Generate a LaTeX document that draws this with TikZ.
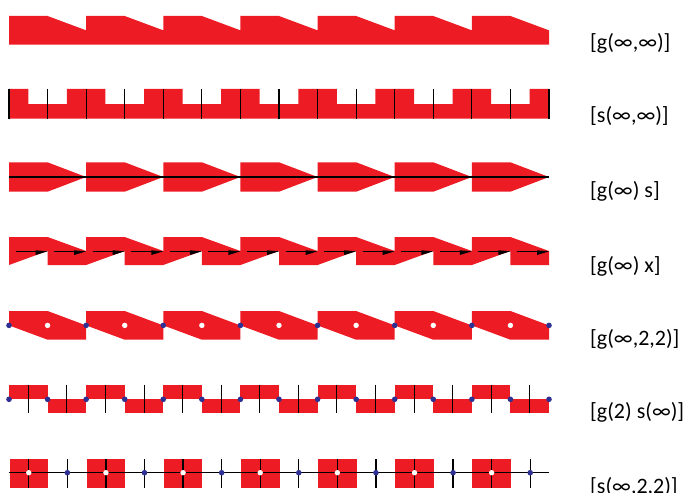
\documentclass[tikz,border=0pt]{standalone}
\usepackage{fontspec}
\setmainfont{Carlito}
\definecolor{fred}{RGB}{237,28,36}
\definecolor{fblue}{RGB}{46,49,146}
\begin{document}
\begin{tikzpicture}[x=1pt,y=-1pt,
  mline/.style={black,line width=1.2pt},
  lab/.style={anchor=west,inner sep=0pt,font=\fontsize{22}{26}\selectfont}]
\useasboundingbox (0,0) rectangle (692,492);
\pgfmathsetmacro\X{9}
\pgfmathsetmacro\P{540/7}
\pgfmathsetmacro\Hh{270/7}
% Row 1
\fill[fred] (\X,44.7) -- (\X,16)
  \foreach \k in {0,...,5}{ -- ({\X+\k*\P+\Hh},16) -- ({\X+(\k+1)*\P},30.35) -- ({\X+(\k+1)*\P},16) }
  -- ({\X+6*\P+\Hh},16) -- (549,30.35) -- (549,44.7) -- cycle;
% Row 2
\fill[fred] (\X,118.7) -- (\X,89)
  \foreach \k in {0,...,6}{ -- ({\X+\k*\P+0.5*\Hh},89) -- ({\X+\k*\P+0.5*\Hh},104) -- ({\X+\k*\P+1.5*\Hh},104) -- ({\X+\k*\P+1.5*\Hh},89) }
  -- (549,89) -- (549,118.7) -- cycle;
\foreach \k in {0,...,14} \draw[mline] ({\X+\k*\Hh},89) -- ({\X+\k*\Hh},118.7);
% Row 3
\foreach \k in {0,...,6} \fill[fred] ({\X+\k*\P},162.3) -- ++(\Hh,0) -- ({\X+(\k+1)*\P},177) -- ({\X+\k*\P+\Hh},191.7) -- ({\X+\k*\P},191.7) -- cycle;
\draw[mline,line width=1.6pt] (\X,177) -- (549,177);
% Row 4
\fill[fred] (\X,265) -- (\X,237)
  \foreach \k in {0,...,5}{ -- ({\X+\k*\P+\Hh},237) -- ({\X+(\k+1)*\P},251) -- ({\X+(\k+1)*\P},237) }
  -- ({\X+6*\P+\Hh},237) -- (549,251) -- (549,265)
  \foreach \k in {6,5,...,0}{ -- ({\X+\k*\P+\Hh},265) -- ({\X+\k*\P+\Hh},251) -- ({\X+\k*\P},265) } -- cycle;
\foreach \j in {1,...,14}{
  \draw[black,line width=1pt] ({\X+\j*\Hh-32},251) -- ({\X+\j*\Hh-6},251);
  \fill[black] ({\X+\j*\Hh},251.3) -- ({\X+\j*\Hh-12},250.3) -- ({\X+\j*\Hh-12},255) -- cycle;
}
% Row 5
\foreach \k in {0,...,6} \fill[fred] ({\X+\k*\P},311) -- ++(\Hh,0) -- ({\X+(\k+1)*\P},325.4) -- ({\X+(\k+1)*\P},339.7) -- ({\X+\k*\P+\Hh},339.7) -- ({\X+\k*\P},325.4) -- cycle;
\foreach \k in {0,...,6} \fill[white] ({\X+\k*\P+\Hh},325.4) circle (2.7);
\foreach \k in {0,...,7} \fill[fblue] ({\X+\k*\P},325.4) circle (2.8);
% Row 6
\foreach \k in {0,2,...,12} \fill[fred] ({\X+\k*\Hh},384.7) rectangle ({\X+(\k+1)*\Hh},399.3);
\foreach \k in {1,3,...,13} \fill[fred] ({\X+\k*\Hh},399.3) rectangle ({\X+(\k+1)*\Hh},413.3);
\foreach \k in {0,...,13} \draw[mline,line width=1pt] ({\X+(\k+0.5)*\Hh},384.7) -- ({\X+(\k+0.5)*\Hh},413.3);
\foreach \k in {0,...,14} \fill[fblue] ({\X+\k*\Hh},399.3) circle (2.8);
% Row 7
\foreach \k in {0,2,...,12} \fill[fred] ({\X+\k*\Hh+0.5},459) rectangle ({\X+(\k+1)*\Hh+0.5},487.7);
\draw[mline,line width=1.5pt] (\X,472.7) -- (549,472.7);
\foreach \k in {0,...,13} \draw[mline] ({\X+(\k+0.5)*\Hh+0.5},459) -- ({\X+(\k+0.5)*\Hh+0.5},487.7);
\foreach \k in {0,2,...,12} \fill[white] ({\X+(\k+0.5)*\Hh+0.5},472.7) circle (2.7);
\foreach \k in {1,3,...,13} \fill[fblue] ({\X+(\k+0.5)*\Hh+0.5},472.7) circle (2.8);
% Labels
\node[lab] (l1) at (590,43.5) {[g(∞,∞)]};
\node[lab] (l2) at (590,115.5) {[s(∞,∞)]};
\node[lab] (l3) at (590,191.7) {[g(∞) s]};
\node[lab] (l4) at (590,266.7) {[g(∞) x]};
\node[lab] (l5) at (590,339.3) {[g(∞,2,2)]};
\node[lab] (l6) at (590,412) {[g(2) s(∞)]};
\node[lab] (l7) at (590,486.7) {[s(∞,2,2)]};
\end{tikzpicture}
\end{document}
